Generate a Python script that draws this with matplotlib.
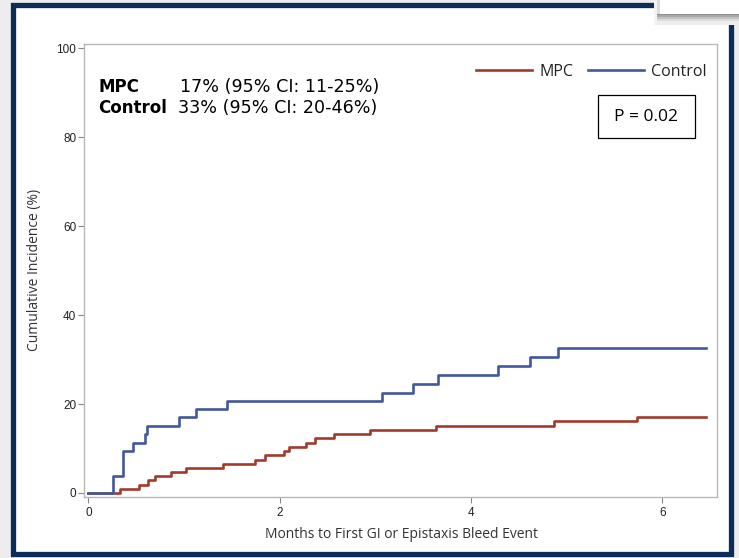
import matplotlib
matplotlib.use("Agg")
import matplotlib.pyplot as plt
from matplotlib.patches import Rectangle

# ---- data ----
control_t = [0, 0.26, 0.36, 0.46, 0.59, 0.61, 0.95, 1.12, 1.45, 3.07, 3.39, 3.65, 4.28, 4.61, 4.91, 6.46]
control_v = [0, 3.8, 9.4, 11.3, 13.2, 15.1, 17.0, 18.9, 20.8, 22.6, 24.6, 26.5, 28.5, 30.6, 32.7, 32.7]

mpc_t = [0, 0.33, 0.53, 0.62, 0.69, 0.86, 1.02, 1.41, 1.74, 1.84, 2.04, 2.10, 2.27, 2.37, 2.57, 2.94, 3.63, 4.87, 5.73, 6.46]
mpc_v = [0, 1.0, 1.9, 2.9, 3.8, 4.7, 5.6, 6.5, 7.5, 8.5, 9.4, 10.4, 11.3, 12.3, 13.3, 14.2, 15.1, 16.2, 17.2, 17.2]

x_ticks = [0, 2, 4, 6]
y_ticks = [0, 20, 40, 60, 80, 100]
series_names = ["MPC", "Control"]
summary_values = ["17% (95% CI: 11-25%)", "33% (95% CI: 20-46%)"]
p_text = "P = 0.02"

RED = "#a03a2c"
BLUE = "#42589a"
W, H = 739, 558

fig = plt.figure(figsize=(W / 100, H / 100), dpi=100)
fig.patch.set_facecolor("#ededf0")

def fx(px):
    return px / W

def fy(py):
    return 1 - py / H

def frect(x0, y0, x1, y1, **kw):
    """rectangle in pixel coords (y down)"""
    fig.patches.append(Rectangle((fx(x0), fy(y1)), fx(x1) - fx(x0), fy(y0) - fy(y1),
                                 transform=fig.transFigure, **kw))

# white panel with navy border
frect(12.5, 4.5, 731, 553.5, facecolor="white", edgecolor="#0c2d58", linewidth=3.8, zorder=0)

# popup box top right with soft shadow (opaque bands)
frect(654, 0, 739, 25, facecolor="#f3f3f3", edgecolor="none", zorder=1)
for (y0, y1, c) in [(13, 15, "#8f8f8f"), (15, 17, "#a9a9a9"), (17, 19, "#c4c4c4"),
                    (19, 21, "#dcdcdc"), (21, 25, "#eeeeee")]:
    frect(657, y0, 739, y1, facecolor=c, edgecolor="none", zorder=1.5)
frect(657, 0, 660, 14, facecolor="#dddddd", edgecolor="none", zorder=1.5)
frect(660, 0, 739, 13.5, facecolor="white", edgecolor="none", zorder=2)

ax = fig.add_axes([fx(84), fy(497), fx(717) - fx(84), fy(43.5) - fy(497)])
ax.set_zorder(3)
ax.set_facecolor("white")

ax.step(mpc_t, mpc_v, where="post", color=RED, lw=1.9, label=series_names[0], zorder=3)
ax.step(control_t, control_v, where="post", color=BLUE, lw=1.9, label=series_names[1], zorder=3)

ax.set_xlim(-0.047, 6.57)
ax.set_ylim(-0.9, 101.1)
ax.set_xticks(x_ticks)
ax.set_yticks(y_ticks)

tick_font = ["Liberation Sans Narrow", "Liberation Sans", "DejaVu Sans"]
for lab in ax.get_xticklabels() + ax.get_yticklabels():
    lab.set_family(tick_font)
    lab.set_fontsize(8.5)
    lab.set_color("#222222")
ax.tick_params(axis="y", length=4, width=0.8, color="#888888", pad=1.5)
ax.tick_params(axis="x", length=4, width=0.8, color="#888888", pad=3)

for s in ax.spines.values():
    s.set_color("#b8b8b8")
    s.set_linewidth(1.0)

label_font = ["Open Sans", "DejaVu Sans"]
ax.set_xlabel("Months to First GI or Epistaxis Bleed Event", family=label_font, fontsize=10,
              color="#333333")
ax.xaxis.set_label_coords((fx(402) - fx(84)) / (fx(717) - fx(84)),
                          (fy(535) - fy(497)) / (fy(43.5) - fy(497)))
ax.xaxis.label.set_va("center")
ax.set_ylabel("Cumulative Incidence (%)", family=label_font, fontsize=10,
              color="#333333")
ax.yaxis.set_label_coords((fx(35) - fx(84)) / (fx(717) - fx(84)),
                          (fy(270) - fy(497)) / (fy(43.5) - fy(497)))
ax.yaxis.label.set_va("center")

# summary text
txt_font = ["DejaVu Sans"]
ax.text(fx(98), fy(87), series_names[0], transform=fig.transFigure, fontsize=12,
        fontweight="bold", family=txt_font, va="center", ha="left", color="black")
ax.text(fx(180), fy(87), summary_values[0], transform=fig.transFigure, fontsize=12.6,
        family=txt_font, va="center", ha="left", color="black")
ax.text(fx(98), fy(108), series_names[1], transform=fig.transFigure, fontsize=12,
        fontweight="bold", family=txt_font, va="center", ha="left", color="black")
ax.text(fx(178), fy(108), summary_values[1], transform=fig.transFigure, fontsize=12.6,
        family=txt_font, va="center", ha="left", color="black")

# legend
leg = ax.legend(loc="upper right", bbox_to_anchor=(fx(707), fy(64)),
                bbox_transform=fig.transFigure, ncol=2, frameon=False,
                handlelength=3.5, handletextpad=0.45, columnspacing=0.95,
                prop={"family": ["Open Sans", "DejaVu Sans"], "size": 11.5},
                borderaxespad=0, borderpad=0)
for t in leg.get_texts():
    t.set_color("#222222")

# P value box
frect(598, 95, 695, 138, facecolor="white", edgecolor="black", linewidth=0.9, zorder=5)
fig.text(fx(646.5), fy(117), p_text, fontsize=12.5, family=["Open Sans", "DejaVu Sans"],
         ha="center", va="center", color="black", zorder=6)

fig.savefig("out.png", dpi=100, facecolor=fig.get_facecolor())
